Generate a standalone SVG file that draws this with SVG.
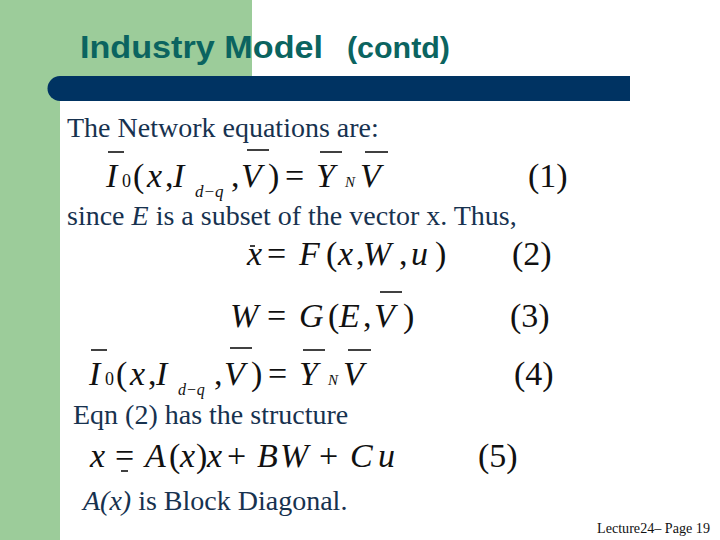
<svg xmlns="http://www.w3.org/2000/svg" width="720" height="540" viewBox="0 0 720 540">
<style>
.title{font-family:"Liberation Sans",Arial,sans-serif;font-weight:bold;fill:#0b6460}
.body{font-family:"Liberation Serif","Times New Roman",serif;font-size:28px;fill:#17324f}
.m{font-family:"Liberation Serif","Times New Roman",serif;font-size:34px;fill:#111;font-style:italic}
.u{font-style:normal}
.bar{stroke:#111;stroke-width:1.6}
.foot{font-family:"Liberation Serif","Times New Roman",serif;font-size:14px;fill:#111}
</style>
<rect width="720" height="540" fill="#ffffff"/>
<g id="background">
<rect x="0" y="0" width="252" height="101" fill="#9ccc9a"/>
<rect x="0" y="0" width="60" height="540" fill="#9ccc9a"/>
<path d="M60,76 H630 V101 H60 A12.5,12.5 0 0 1 60,76 Z" fill="#003362"/>
</g>
<g id="title">
<text class="title" x="80" y="58" font-size="32" textLength="243" lengthAdjust="spacingAndGlyphs">Industry Model</text>
<text class="title" x="347" y="58" font-size="29" textLength="103" lengthAdjust="spacingAndGlyphs">(contd)</text>
</g>
<g id="intro">
<text class="body" x="67" y="137">The Network equations are:</text>
</g>
<g id="eq1">
<text class="m" y="187"><tspan x="106">I</tspan><tspan class="u" x="122" font-size="18">0</tspan><tspan class="u" x="133">(</tspan><tspan x="147">x</tspan><tspan class="u" x="165">,</tspan><tspan x="173">I</tspan><tspan x="195" y="197" font-size="17">d−q</tspan><tspan class="u" x="231" y="187">,</tspan><tspan x="241">V</tspan><tspan class="u" x="268">)</tspan><tspan class="u" x="285">=</tspan><tspan x="316">Y</tspan><tspan x="345" font-size="15">N</tspan><tspan x="360">V</tspan></text>
<line class="bar" x1="108" y1="152" x2="124" y2="152"/>
<line class="bar" x1="247" y1="150" x2="269" y2="150"/>
<line class="bar" x1="320" y1="152" x2="342" y2="152"/>
<line class="bar" x1="365" y1="152" x2="388" y2="152"/>
<text class="m u" x="528" y="187">(1)</text>
</g>
<g id="since">
<text class="body" x="67" y="225">since <tspan font-style="italic">E</tspan> is a subset of the vector x. Thus,</text>
</g>
<g id="eq2">
<text class="m" y="265"><tspan x="247">x</tspan><tspan class="u" x="267">=</tspan><tspan x="299">F</tspan><tspan class="u" x="326">(</tspan><tspan x="338">x</tspan><tspan class="u" x="356">,</tspan><tspan x="363">W</tspan><tspan class="u" x="399">,</tspan><tspan x="411">u</tspan><tspan class="u" x="435">)</tspan></text>
<line class="bar" x1="250" y1="246" x2="255" y2="246"/>
<text class="m u" x="512" y="265">(2)</text>
</g>
<g id="eq3">
<text class="m" y="327"><tspan x="230">W</tspan><tspan class="u" x="267">=</tspan><tspan x="299">G</tspan><tspan class="u" x="328">(</tspan><tspan x="339">E</tspan><tspan class="u" x="363">,</tspan><tspan x="374">V</tspan><tspan class="u" x="403">)</tspan></text>
<line class="bar" x1="380" y1="292" x2="402" y2="292"/>
<text class="m u" x="510" y="327">(3)</text>
</g>
<g id="eq4">
<text class="m" y="385"><tspan x="89">I</tspan><tspan class="u" x="105" font-size="18">0</tspan><tspan class="u" x="116">(</tspan><tspan x="130">x</tspan><tspan class="u" x="148">,</tspan><tspan x="156">I</tspan><tspan x="178" y="395" font-size="16">d−q</tspan><tspan class="u" x="214" y="385">,</tspan><tspan x="224">V</tspan><tspan class="u" x="251">)</tspan><tspan class="u" x="268">=</tspan><tspan x="299">Y</tspan><tspan x="328" font-size="15">N</tspan><tspan x="343">V</tspan></text>
<line class="bar" x1="91" y1="350" x2="107" y2="350"/>
<line class="bar" x1="230" y1="348" x2="252" y2="348"/>
<line class="bar" x1="303" y1="350" x2="325" y2="350"/>
<line class="bar" x1="348" y1="350" x2="371" y2="350"/>
<text class="m u" x="514" y="385">(4)</text>
</g>
<g id="structure">
<text class="body" x="73" y="424">Eqn (2) has the structure</text>
</g>
<g id="eq5">
<text class="m" y="467"><tspan x="90">x</tspan><tspan class="u" x="115">=</tspan><tspan x="145">A</tspan><tspan class="u" x="169">(</tspan><tspan x="180">x</tspan><tspan class="u" x="196">)</tspan><tspan x="207">x</tspan><tspan class="u" x="227">+</tspan><tspan x="257">B</tspan><tspan x="280">W</tspan><tspan class="u" x="319">+</tspan><tspan x="350">C</tspan><tspan x="378">u</tspan></text>
<line class="bar" x1="121" y1="471" x2="128" y2="471"/>
<text class="m u" x="478" y="467">(5)</text>
</g>
<g id="blockdiag">
<text class="body" x="83" y="510"><tspan font-style="italic">A(x)</tspan> is Block Diagonal.</text>
</g>
<g id="footer">
<text class="foot" x="597" y="533" textLength="113" lengthAdjust="spacingAndGlyphs">Lecture24– Page 19</text>
</g>
</svg>
